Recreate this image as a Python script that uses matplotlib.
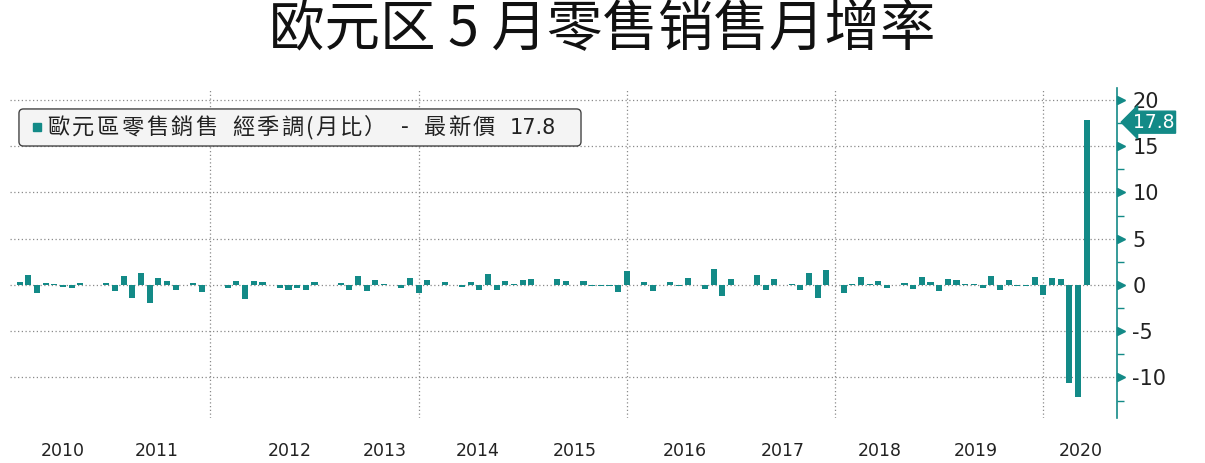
import matplotlib.pyplot as plt
import matplotlib.transforms as mtransforms
from matplotlib.patches import FancyBboxPatch
from matplotlib.ticker import MultipleLocator, FuncFormatter

plt.rcParams['font.family'] = ['Noto Sans CJK TC', 'DejaVu Sans']

TEAL = "#138a87"

# monthly change (%), Feb 2010 .. May 2020, bar placed at month end
vals_2010 = [0.32, 1.05, -0.83, 0.25, 0.05, -0.2, -0.35, 0.25, -0.05, 0.0, 0.25]
vals_2011 = [-0.7, 0.97, -1.37, 1.26, -2.0, 0.76, 0.47, -0.54, -0.05, 0.25, -0.72, 0.0]
vals_2012 = [0.0, -0.36, 0.43, -1.5, 0.43, 0.32, -0.05, -0.29, -0.58, -0.36, -0.5, 0.32]
vals_2013 = [-0.05, -0.05, 0.25, -0.58, 0.97, -0.68, 0.5, 0.05, -0.05, -0.32, 0.72, -0.83]
vals_2014 = [0.5, -0.05, 0.32, 0.0, -0.18, 0.32, -0.58, 1.2, -0.58, 0.47, 0.1, 0.54]
vals_2015 = [0.68, -0.05, -0.05, 0.68, 0.47, 0.0, 0.47, -0.14, -0.1, -0.1, -0.72, 1.48]
vals_2016 = [0.0, 0.29, -0.61, 0.0, 0.32, -0.14, 0.76, 0.0, -0.4, 1.77, -1.19, 0.68]
vals_2017 = [0.0, 0.0, 1.08, -0.54, 0.68, 0.0, 0.05, -0.5, 1.26, -1.4, 1.66, 0.0]
vals_2018 = [-0.9, 0.05, 0.83, 0.05, 0.47, -0.29, -0.05, 0.25, -0.4, 0.83, 0.32, -0.65]
vals_2019 = [0.68, 0.54, 0.05, 0.1, -0.29, 0.97, -0.54, 0.5, -0.14, -0.1, 0.83, -1.05]
vals_2020 = [0.72, 0.65, -10.6, -12.1, 17.8]

values = (vals_2010 + vals_2011 + vals_2012 + vals_2013 + vals_2014 + vals_2015
          + vals_2016 + vals_2017 + vals_2018 + vals_2019 + vals_2020)
months = list(range(2, 2 + len(values)))  # months counted from Jan 2010 start

year_labels = ["2010", "2011", "2012", "2013", "2014", "2015",
               "2016", "2017", "2018", "2019", "2020"]
year_label_pos = [7.0, 17.8, 33.1, 44.1, 54.8, 66.0, 78.7, 90.0, 101.2, 112.2, 124.3]
year_grid = [24, 48, 72, 96, 120]
y_major = [-10, -5, 0, 5, 10, 15, 20]
latest = values[-1]

legend_label = "歐元區零售銷售 經季調(月比） - 最新價 "

fig = plt.figure(figsize=(12.05, 4.63), dpi=100)
ax = fig.add_axes([0.0083, 0.097, 0.9187, 0.713])

ax.bar(months, values, width=0.7, color=TEAL, zorder=3)

ax.set_xlim(0.9, 128.5)
ax.set_ylim(-14.4, 21.3)

# grid
for y in y_major:
    ax.axhline(y, color="#8a8a8a", lw=0.9, ls=(0, (1, 2)), zorder=1)
for x in year_grid:
    ax.axvline(x, color="#8a8a8a", lw=0.9, ls=(0, (1, 2)), zorder=1)

for s in ["top", "left", "bottom"]:
    ax.spines[s].set_visible(False)
ax.spines["right"].set_color(TEAL)
ax.spines["right"].set_linewidth(1.2)

ax.yaxis.tick_right()
ax.yaxis.set_major_locator(MultipleLocator(5))
ax.yaxis.set_minor_locator(MultipleLocator(2.5))
ax.yaxis.set_major_formatter(FuncFormatter(lambda v, p: f"{v:.0f}".replace("\u2212", "-")))
ax.tick_params(axis="y", which="major", length=0, labelsize=15,
               labelcolor="#222222", pad=11)
ax.tick_params(axis="y", which="minor", length=5, width=1, color=TEAL)
for lab in ax.get_yticklabels():
    lab.set_family("DejaVu Sans")

# arrow-shaped major ticks
tick_tr = mtransforms.blended_transform_factory(ax.transAxes, ax.transData)
ax.plot([1.0035] * len(y_major), y_major, ls="none", marker=">", ms=6,
        color=TEAL, transform=tick_tr, clip_on=False, zorder=5)

ax.set_xticks(year_label_pos)
ax.set_xticklabels(year_labels, fontsize=12.5, color="#222222", family="DejaVu Sans")
ax.tick_params(axis="x", length=0, pad=17)

# latest value tag on the right axis
ax.text(1.014, latest - 0.2, f"{latest:.1f}", transform=tick_tr, ha="left", va="center",
        fontsize=13.5, color="white", family="DejaVu Sans",
        bbox=dict(boxstyle="larrow,pad=0.08", fc=TEAL, ec=TEAL), zorder=6,
        clip_on=False)

# legend box
ax_w_px = 0.9187 * 1205
aspect = ax_w_px / (0.713 * 463)
box = FancyBboxPatch((0.0081, 0.8242), 0.5077, 0.1122,
                     boxstyle="round,pad=0,rounding_size=0.004",
                     mutation_aspect=aspect, transform=ax.transAxes,
                     fc="#f4f4f4", ec="#444444", lw=1, zorder=6)
ax.add_patch(box)
ax.plot([0.0248], [0.882], ls="none", marker="s", ms=5.8, color=TEAL,
        transform=ax.transAxes, zorder=7)

# legend text laid out with the wide character pitch of the original
x_px = 47.0
for ch in legend_label:
    if ch == " ":
        x_px += 12
        continue
    ax.text((x_px - 10) / ax_w_px, 0.880, ch, transform=ax.transAxes,
            ha="left", va="center", fontsize=16, color="#222222", zorder=7)
    x_px += {"-": 10, "(": 9}.get(ch, 24.7)
ax.text((x_px - 10) / ax_w_px, 0.880, f"{latest:.1f}", transform=ax.transAxes,
        ha="left", va="center", fontsize=15, color="#222222", zorder=7,
        family="DejaVu Sans")

fig.text(0.5, 0.935, "欧元区 5 月零售销售月增率", ha="center", va="center",
         fontsize=40, fontweight="light", color="#111111",
         family=["Noto Sans CJK SC", "DejaVu Sans"])

fig.savefig("out.png", dpi=100)
